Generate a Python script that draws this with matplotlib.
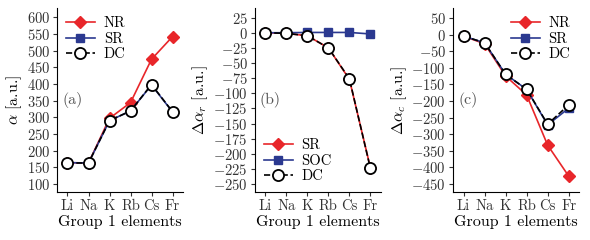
import matplotlib
matplotlib.use("Agg")
import matplotlib.pyplot as plt

plt.rcParams['font.family'] = 'serif'
plt.rcParams['font.serif'] = ['cmr10']
plt.rcParams['mathtext.fontset'] = 'cm'
plt.rcParams['axes.formatter.use_mathtext'] = True
plt.rcParams['font.size'] = 11.5

elements = ['Li', 'Na', 'K', 'Rb', 'Cs', 'Fr']

# (a) static polarizability
alpha_nr = [164, 163, 297, 344, 474, 542]
alpha_sr = [164, 163, 290, 319, 397, 316]
alpha_dc = [163, 163, 290, 319, 398, 317]

# (b) relativistic contribution
dr_sr = [0, -1, -5, -25, -77, -223]
dr_soc = [0, 0, 0.5, 0.5, 0.5, -2]
dr_dc = [0, -1, -5, -25, -76, -224]

# (c) correlation contribution
dc_nr = [-5, -28, -125, -182, -333, -426]
dc_sr = [-5, -25, -120, -165, -272, -222]
dc_dc = [-5, -25, -120, -165, -270, -212]

red = '#e8262a'
blue = '#2b3990'

fig = plt.figure(figsize=(5.9, 2.4), dpi=100)
lefts = [0.0966, 0.432, 0.768]
axs = [fig.add_axes([l, 0.2, 0.2136, 0.767]) for l in lefts]
x = range(len(elements))

def red_line(ax, y, label):
    ax.plot(x, y, '-', color=red, marker='D', ms=6.5, lw=1.2, label=label, zorder=2)

def blue_line(ax, y, label):
    ax.plot(x, y, '-', color=blue, marker='s', ms=6, lw=1.2, label=label, zorder=3)

def dc_line(ax, y):
    ax.plot(x, y, '--', color='black', marker='o', ms=8, mfc='white', mec='black',
            mew=1.3, lw=1.2, label='DC', zorder=4)

leg_kw = dict(frameon=False, handlelength=2.0, borderaxespad=0.2,
              labelspacing=0.12, handletextpad=0.6, fontsize=10.5)

ax = axs[0]
red_line(ax, alpha_nr, 'NR')
blue_line(ax, alpha_sr, 'SR')
dc_line(ax, alpha_dc)
ax.set_ylim(76, 628)
ax.set_yticks(range(100, 601, 50))
ax.set_ylabel(r'$\alpha$ [a.u.]', labelpad=2)
ax.legend(loc='upper left', **leg_kw)
ax.text(0.04, 0.5, '(a)', transform=ax.transAxes, color='#555555', va='center')

ax = axs[1]
ax.plot(x, dr_sr, '-', color=red, marker='D', ms=6.5, lw=1.2, label='SR', zorder=2)
blue_line(ax, dr_soc, 'SOC')
dc_line(ax, dr_dc)
ax.set_ylim(-263, 41)
ax.set_yticks(range(-250, 26, 25))
ax.set_ylabel(r'$\Delta\alpha_r$ [a.u.]', labelpad=2)
ax.legend(loc='lower left', **leg_kw)
ax.text(0.04, 0.5, '(b)', transform=ax.transAxes, color='#555555', va='center')

ax = axs[2]
red_line(ax, dc_nr, 'NR')
blue_line(ax, dc_sr, 'SR')
dc_line(ax, dc_dc)
ax.set_ylim(-474, 80)
ax.set_yticks(range(-450, 51, 50))
ax.set_ylabel(r'$\Delta\alpha_c$ [a.u.]', labelpad=2)
ax.legend(loc='upper right', **leg_kw)
ax.text(0.04, 0.5, '(c)', transform=ax.transAxes, color='#555555', va='center')

for ax in axs:
    ax.set_xlim(-0.5, 5.5)
    ax.set_xticks(list(x))
    ax.set_xticklabels(elements)
    ax.set_xlabel('Group 1 elements', labelpad=2)
    ax.spines['top'].set_visible(False)
    ax.spines['right'].set_visible(False)
    ax.tick_params(length=3, pad=2, labelsize=10.5, colors='#333333')

fig.savefig('out.png', dpi=100)
